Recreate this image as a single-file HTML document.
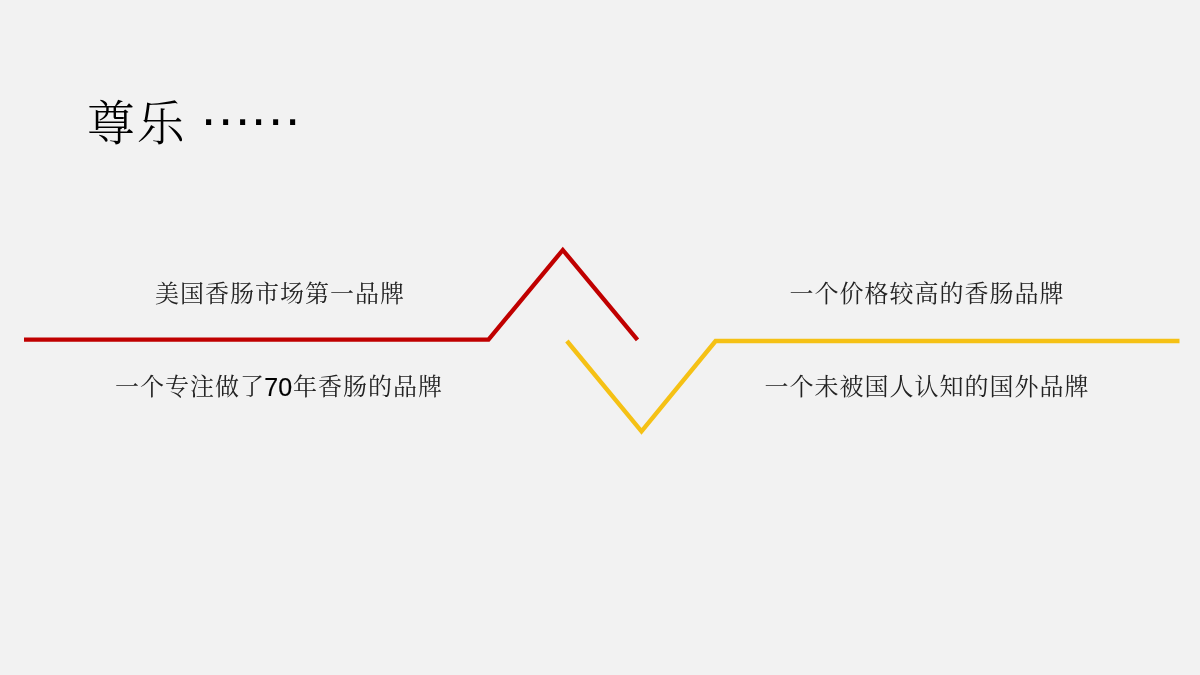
<!DOCTYPE html>
<html lang="zh-CN">
<head>
<meta charset="utf-8">
<title>尊乐</title>
<style>
  html, body { margin: 0; padding: 0; }
  body { width: 1200px; height: 675px; overflow: hidden; background: #f2f2f2; }
  .slide { position: relative; width: 1200px; height: 675px; background: #f2f2f2; overflow: hidden;
    font-family: "Liberation Sans", "Noto Serif CJK SC", serif; color: #000; }
  .title { position: absolute; left: 86.5px; top: 88.5px; margin: 0; font-weight: 300; letter-spacing: 1.7px;
    font-family: "Liberation Serif", "Noto Serif CJK SC", serif; font-size: 48px; line-height: 70px;
    color: #000; white-space: nowrap; will-change: transform; }
  .title .dots { position: absolute; left: 111.7px; top: -18px; font-family: "Liberation Sans", sans-serif;
    font-weight: 400; font-size: 53.7px; line-height: 70px; letter-spacing: -3.68px; }
  .txt { position: absolute; margin: 0; font-size: 24px; line-height: 36px; white-space: nowrap;
    text-align: center; font-weight: 400; letter-spacing: 1px; color: #222; will-change: transform; }
  .txt .num { font-weight: 400; font-size: 25px; letter-spacing: 0; line-height: 0; position: relative; top: 1px; left: -0.8px; color: #000; -webkit-text-stroke: 0.2px #000; }
  .t1 { left: 80px; width: 400px; top: 276px; }
  .t2 { left: 79px; width: 400px; top: 369px; }
  .t3 { left: 727px; width: 400px; top: 276px; }
  .t4 { left: 727px; width: 400px; top: 369px; }
  svg { position: absolute; left: 0; top: 0; }
</style>
</head>
<body>
<div class="slide">
  <h1 class="title">尊乐 <span class="dots">……</span></h1>
  <svg width="1200" height="675" viewBox="0 0 1200 675">
    <polyline points="24,339.6 488.5,339.6 562.8,250 637.5,339.8" fill="none" stroke="#c00000" stroke-width="4.3" stroke-linejoin="miter" stroke-linecap="butt"/>
    <polyline points="566.9,341 641.5,431.3 715.6,341 1179.5,341" fill="none" stroke="#f5c115" stroke-width="4.4" stroke-linejoin="miter" stroke-linecap="butt"/>
  </svg>
  <p class="txt t1">美国香肠市场第一品牌</p>
  <p class="txt t2">一个专注做了<span class="num">70</span>年香肠的品牌</p>
  <p class="txt t3">一个价格较高的香肠品牌</p>
  <p class="txt t4">一个未被国人认知的国外品牌</p>
</div>
</body>
</html>
